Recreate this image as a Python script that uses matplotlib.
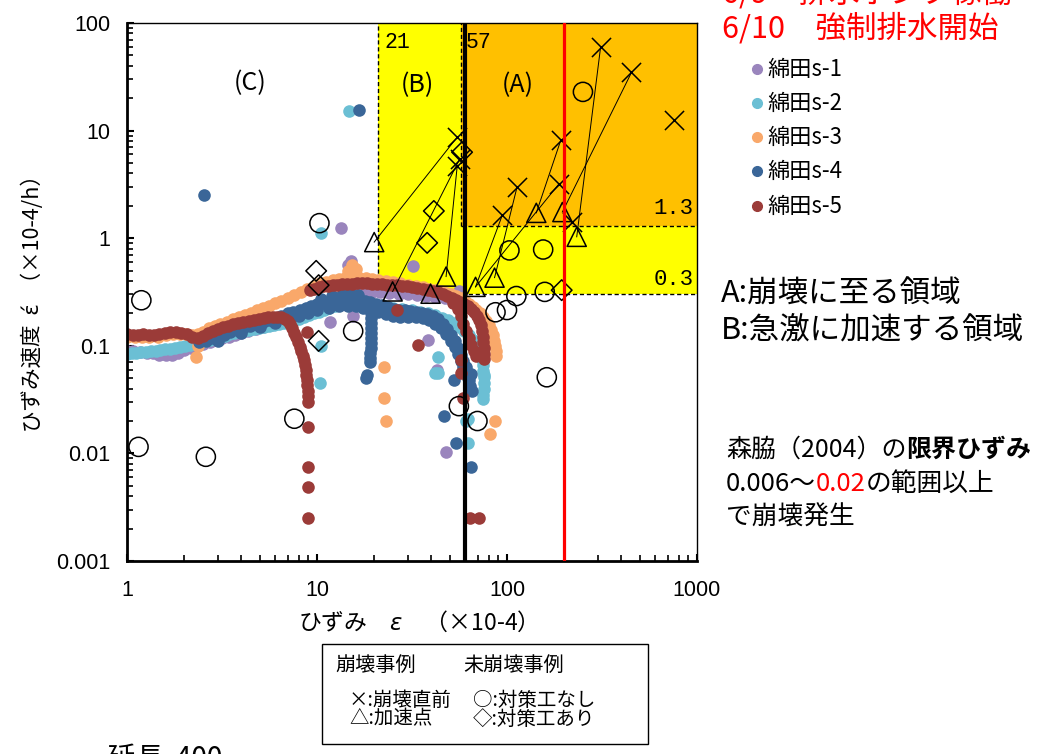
import matplotlib
matplotlib.use("Agg")
import matplotlib.pyplot as plt
import numpy as np
from matplotlib.patches import Rectangle
from matplotlib.lines import Line2D
from matplotlib.ticker import FixedLocator, LogLocator, NullFormatter

plt.rcParams['font.family'] = ['Noto Sans CJK JP', 'DejaVu Sans']

# ---- measured strain (x, ×10^-4) and strain rate (y, ×10^-4/h) per gauge ----
s1_pts = [(1.0, 0.09), (1.08, 0.089), (1.17, 0.088), (1.27, 0.086), (1.37, 0.085), (1.48, 0.083),
          (1.6, 0.082), (1.72, 0.083), (1.85, 0.086), (2.0, 0.091), (2.16, 0.096), (2.33, 0.1),
          (2.52, 0.104), (2.72, 0.108), (2.94, 0.113), (3.18, 0.118), (3.43, 0.122), (3.7, 0.126),
          (4.0, 0.131), (4.35, 0.136), (4.75, 0.142), (5.2, 0.148), (5.7, 0.155), (6.25, 0.163),
          (6.85, 0.172), (7.5, 0.183), (8.2, 0.196), (9.0, 0.21), (9.9, 0.226), (10.9, 0.243),
          (12.0, 0.26), (13.2, 0.28), (14.5, 0.3), (16.0, 0.315), (17.7, 0.32), (19.5, 0.318),
          (21.5, 0.314), (24.0, 0.31), (27.0, 0.305), (30.0, 0.3), (33.5, 0.295), (37.5, 0.29),
          (42.0, 0.284), (47.0, 0.276), (52.0, 0.266), (56.0, 0.32), (57.0, 0.25), (62.0, 0.228),
          (13.3, 1.24), (15.1, 0.62), (14.6, 0.56), (32.0, 0.55), (11.7, 0.166), (15.5, 0.19),
          (38.6, 0.113), (43.0, 0.06), (48.0, 0.0102)]

s2_pts = [(1.0, 0.084), (1.06, 0.085), (1.12, 0.086), (1.19, 0.087), (1.26, 0.088), (1.34, 0.089),
          (1.42, 0.09), (1.5, 0.091), (1.59, 0.093), (1.69, 0.094), (1.79, 0.096), (1.9, 0.098),
          (2.02, 0.1), (2.14, 0.102), (2.27, 0.104), (2.41, 0.107), (2.56, 0.11), (2.72, 0.113),
          (2.89, 0.116), (3.07, 0.12), (3.26, 0.124), (3.46, 0.128), (3.67, 0.131), (3.9, 0.134),
          (4.14, 0.137), (4.4, 0.14), (4.67, 0.143), (4.96, 0.146), (5.27, 0.149), (5.6, 0.152),
          (5.95, 0.155), (6.32, 0.158), (6.71, 0.162), (7.13, 0.167), (7.57, 0.173), (8.04, 0.179),
          (8.54, 0.186), (9.07, 0.193), (9.63, 0.2), (10.2, 0.208), (10.9, 0.217), (11.6, 0.226),
          (12.4, 0.236), (13.3, 0.244), (14.3, 0.25), (15.4, 0.252), (16.6, 0.25), (18.0, 0.246),
          (20.0, 0.24), (22.5, 0.232), (25.0, 0.226), (28.0, 0.22), (31.5, 0.214), (35.0, 0.207),
          (38.5, 0.2), (42.0, 0.192), (45.5, 0.183), (49.0, 0.173), (52.5, 0.162), (56.0, 0.15),
          (59.5, 0.138), (63.0, 0.125), (66.0, 0.113), (68.5, 0.102), (70.5, 0.092), (72.3, 0.083),
          (73.5, 0.075), (74.5, 0.066), (75.0, 0.058), (75.3, 0.051), (75.4, 0.045), (75.5, 0.04),
          (75.2, 0.035), (75.0, 0.032),
          (14.8, 15.1), (10.5, 1.11), (10.5, 0.1), (10.4, 0.045), (43.5, 0.078), (43.5, 0.056),
          (42.0, 0.056), (60.5, 0.02), (62.5, 0.021), (62.0, 0.0124), (76.0, 0.053)]

s3_pts = [(1.0, 0.12), (1.1, 0.121), (1.2, 0.122), (1.3, 0.12), (1.45, 0.122), (1.6, 0.125),
          (1.75, 0.128), (1.9, 0.13), (2.05, 0.128), (2.2, 0.125), (2.35, 0.128), (2.5, 0.135),
          (2.7, 0.145), (2.9, 0.152), (3.1, 0.16), (3.35, 0.168), (3.6, 0.176), (3.9, 0.185),
          (4.2, 0.194), (4.5, 0.203), (4.85, 0.213), (5.2, 0.224), (5.6, 0.236), (6.0, 0.248),
          (6.5, 0.262), (7.0, 0.277), (7.6, 0.295), (8.2, 0.315), (8.9, 0.34), (9.6, 0.36),
          (10.4, 0.38), (11.2, 0.395), (12.1, 0.41), (13.0, 0.42), (14.0, 0.43), (15.2, 0.44),
          (16.5, 0.44), (18.0, 0.43), (19.5, 0.42), (21.0, 0.41), (23.0, 0.4), (25.0, 0.39),
          (27.5, 0.38), (30.0, 0.37), (33.0, 0.36), (36.0, 0.35), (39.0, 0.34), (42.0, 0.33),
          (45.0, 0.32), (48.0, 0.31), (51.0, 0.3), (54.0, 0.29), (57.0, 0.28), (60.0, 0.26),
          (63.0, 0.245), (66.0, 0.23), (69.0, 0.215), (72.0, 0.2), (75.0, 0.185), (78.0, 0.17),
          (80.0, 0.155), (82.0, 0.14), (84.0, 0.125), (85.0, 0.112), (86.0, 0.1), (87.0, 0.09),
          (88.0, 0.081),
          (2.3, 0.078), (2.35, 0.099), (15.2, 0.56), (16.0, 0.52), (14.5, 0.5), (22.6, 0.063),
          (22.6, 0.033), (23.0, 0.02), (86.0, 0.02), (81.0, 0.0151)]

s4_pts = [(2.4, 0.108), (2.6, 0.112), (2.8, 0.117), (3.0, 0.121), (3.25, 0.127), (3.5, 0.133),
          (3.8, 0.139), (4.1, 0.145), (4.45, 0.152), (4.8, 0.159), (5.2, 0.167), (5.6, 0.175),
          (6.05, 0.183), (6.5, 0.191), (7.0, 0.2), (7.5, 0.208), (8.1, 0.217), (8.7, 0.226),
          (9.35, 0.235), (10.0, 0.243), (10.8, 0.251), (11.6, 0.258), (12.5, 0.264), (13.4, 0.268),
          (14.4, 0.27), (15.5, 0.269), (16.6, 0.266), (17.8, 0.26), (19.1, 0.253), (20.5, 0.245),
          (22.0, 0.237), (23.6, 0.229), (25.3, 0.222), (27.1, 0.217), (29.0, 0.213), (31.0, 0.21),
          (33.2, 0.207), (35.5, 0.203), (38.0, 0.197), (40.6, 0.188), (43.2, 0.176), (45.8, 0.161),
          (48.3, 0.144), (50.7, 0.127), (53.0, 0.111), (55.2, 0.096), (57.2, 0.083), (59.0, 0.072),
          (60.6, 0.063), (62.0, 0.055), (63.2, 0.048), (64.2, 0.042),
          (10.5, 0.275), (12.0, 0.29), (13.5, 0.298), (15.0, 0.3), (16.5, 0.297),
          (3.0, 0.112), (4.0, 0.132), (5.0, 0.148), (6.0, 0.162), (7.0, 0.176), (8.0, 0.19),
          (9.0, 0.203), (10.0, 0.214), (11.5, 0.226), (13.0, 0.232), (14.5, 0.234), (16.0, 0.232),
          (17.5, 0.225), (19.0, 0.218), (21.0, 0.205), (23.0, 0.196), (25.0, 0.19), (27.5, 0.187),
          (30.0, 0.186), (33.0, 0.185), (36.0, 0.18), (39.0, 0.172), (42.0, 0.16), (45.0, 0.145),
          (48.0, 0.128), (50.5, 0.112), (53.0, 0.097), (55.0, 0.084), (57.0, 0.073), (59.0, 0.064),
          (61.0, 0.056), (62.5, 0.05),
          (19.2, 0.2), (19.2, 0.18), (19.3, 0.162), (19.3, 0.146), (19.3, 0.131), (19.3, 0.118),
          (19.2, 0.106), (19.2, 0.095), (19.1, 0.085), (19.1, 0.077), (19.0, 0.07), (18.3, 0.053),
          (18.2, 0.05),
          (16.7, 15.5), (2.55, 2.5), (46.5, 0.0225), (54.0, 0.0125), (65.0, 0.0075), (65.5, 0.038),
          (52.5, 0.048), (64.5, 0.055)]

s5_pts = [(1.0, 0.128), (1.07, 0.126), (1.14, 0.127), (1.22, 0.129), (1.3, 0.126), (1.39, 0.127),
          (1.48, 0.13), (1.58, 0.131), (1.69, 0.133), (1.8, 0.134), (1.93, 0.132), (2.06, 0.128),
          (2.2, 0.121), (2.35, 0.117), (2.5, 0.124), (2.66, 0.131), (2.83, 0.137), (3.0, 0.143),
          (3.2, 0.148), (3.4, 0.153), (3.62, 0.158), (3.85, 0.162), (4.1, 0.166), (4.37, 0.17),
          (4.65, 0.174), (4.95, 0.178), (5.25, 0.182), (5.55, 0.185), (5.85, 0.187), (6.15, 0.186),
          (6.45, 0.184), (6.75, 0.179), (7.0, 0.17), (7.2, 0.158), (7.4, 0.145), (7.6, 0.132),
          (7.8, 0.12), (7.95, 0.108), (8.1, 0.098), (8.25, 0.089), (8.4, 0.081), (8.5, 0.074),
          (8.6, 0.067), (8.7, 0.06), (8.8, 0.054), (8.85, 0.048), (8.9, 0.043), (8.95, 0.038),
          (9.0, 0.034), (9.0, 0.03), (9.0, 0.0176), (9.0, 0.0075), (9.0, 0.0049), (9.0, 0.0025),
          (8.9, 0.134), (9.2, 0.33), (9.7, 0.34), (10.2, 0.35), (10.8, 0.357), (11.4, 0.362),
          (12.1, 0.367), (12.8, 0.371), (13.6, 0.374), (14.4, 0.377), (15.3, 0.379), (16.2, 0.38),
          (17.2, 0.381), (18.3, 0.38), (19.4, 0.379), (20.6, 0.377), (21.9, 0.374), (23.3, 0.371),
          (24.8, 0.368), (26.4, 0.364), (28.1, 0.36), (29.9, 0.356), (31.8, 0.351), (33.8, 0.346),
          (36.0, 0.34), (38.3, 0.333), (40.7, 0.325), (43.2, 0.315), (45.8, 0.303), (48.5, 0.29),
          (51.2, 0.277), (54.0, 0.265), (56.8, 0.255), (59.6, 0.245), (62.4, 0.235), (65.0, 0.222),
          (67.4, 0.207), (69.5, 0.19), (71.2, 0.172), (72.6, 0.155), (73.7, 0.138), (74.5, 0.122),
          (75.0, 0.108), (75.3, 0.095), (75.5, 0.084), (75.6, 0.075),
          (52.0, 0.25), (55.0, 0.22), (57.0, 0.19), (59.0, 0.16), (61.0, 0.138), (63.0, 0.118),
          (65.0, 0.102), (67.0, 0.09), (69.0, 0.08),
          (26.5, 0.214), (34.0, 0.101), (57.5, 0.074), (57.5, 0.056), (59.0, 0.033),
          (63.6, 0.0025), (71.5, 0.0025)]

series_names = ['綿田s-1', '綿田s-2', '綿田s-3', '綿田s-4', '綿田s-5']
series_colors = ['#9A85BD', '#6BBFD4', '#F9A86A', '#3A6698', '#9B3B38']

# collapse / non-collapse case markers
circle_pts = [(1.19, 0.265), (1.15, 0.0115), (2.6, 0.0093), (7.6, 0.021), (10.3, 1.38), (15.5, 0.137),
              (55.8, 0.0275), (69.9, 0.02), (162.0, 0.051), (87.0, 0.205), (100.0, 0.215),
              (112.0, 0.29), (158.0, 0.317), (103.0, 0.77), (155.0, 0.785), (251.0, 22.9)]
diamond_pts = [(9.9, 0.497), (10.2, 0.366), (10.2, 0.111), (38.0, 0.905), (41.2, 1.79),
               (58.0, 6.3), (194.0, 0.329)]
triangle_pts = [(20.0, 0.92), (25.0, 0.32), (39.6, 0.305), (47.8, 0.44), (68.3, 0.353),
                (86.0, 0.43), (142.6, 1.72), (195.6, 1.75), (232.8, 1.03)]
cross_pts = [(54.7, 8.7), (56.5, 5.5), (54.7, 4.7), (94.5, 1.64), (113.0, 3.0), (191.7, 8.1),
             (187.8, 3.2), (220.8, 1.42), (311.0, 60.0), (452.0, 34.7), (759.0, 12.5)]
# acceleration point -> point just before collapse
links = [(0, 0), (1, 1), (3, 2), (4, 3), (5, 4), (6, 5), (4, 6), (7, 9), (8, 8)]

# thresholds
b_left, a_left = 21, 57
rate_b, rate_a = 0.3, 1.3
morikawa_low, morikawa_high = 60, 200

fig = plt.figure(figsize=(10.56, 7.54), dpi=100)
W, H = 1056, 754


def fx(px):
    return px / W


def fy(py):
    return 1 - py / H


ax = fig.add_axes([fx(127), fy(561), (697 - 127) / W, (561 - 23) / H])
ax.set_xscale('log')
ax.set_yscale('log')
ax.set_xlim(1, 1000)
ax.set_ylim(0.001, 100)

# zones
ax.add_patch(Rectangle((b_left, rate_b), 1000 - b_left, 100 - rate_b, facecolor='#FFFF00',
                       edgecolor='none', zorder=0))
ax.add_patch(Rectangle((a_left, rate_a), 1000 - a_left, 100 - rate_a, facecolor='#FFC000',
                       edgecolor='none', zorder=0.5))
dash = dict(color='black', lw=1.0, ls=(0, (3, 2)), zorder=1)
ax.plot([b_left, b_left], [rate_b, 100], **dash)
ax.plot([a_left, a_left], [rate_a, 100], **dash)
ax.plot([b_left, 1000], [rate_b, rate_b], **dash)
ax.plot([a_left, 1000], [rate_a, rate_a], **dash)

for pts, name, col in zip([s1_pts, s2_pts, s3_pts, s4_pts, s5_pts], series_names, series_colors):
    xs, ys = np.array(pts).T
    ax.scatter(xs, ys, s=82, color=col, linewidths=0, zorder=2, label=name)

# trajectories
for ti, ci in links:
    ax.plot([triangle_pts[ti][0], cross_pts[ci][0]], [triangle_pts[ti][1], cross_pts[ci][1]],
            color='black', lw=0.7, zorder=3)

mk = dict(facecolors='none', edgecolors='black', linewidths=1.1, zorder=4)
ax.scatter(*np.array(circle_pts).T, marker='o', s=190, **mk)
ax.scatter(*np.array(diamond_pts).T, marker='D', s=110, **mk)
ax.scatter(*np.array(triangle_pts).T, marker='^', s=190, **mk)
ax.scatter(*np.array(cross_pts).T, marker='x', s=190, color='black', linewidths=1.1, zorder=4)

ax.axvline(morikawa_low, color='black', lw=3.0, zorder=5)
ax.axvline(morikawa_high, color='#FF0000', lw=2.3, zorder=5)

# zone labels
ax.text(22.6, 66, '21', fontsize=15.5, family='Liberation Mono', va='center', ha='left', zorder=1)
ax.text(60.5, 66, '57', fontsize=15.5, family='Liberation Mono', va='center', ha='left', zorder=1)
ax.text(4.45, 27.6, '(C)', fontsize=18, ha='center', va='center')
ax.text(33.8, 26.4, '(B)', fontsize=18, ha='center', va='center')
ax.text(113.7, 26.4, '(A)', fontsize=18, ha='center', va='center')
ax.text(960, 1.9, '1.3', fontsize=16, family='Liberation Mono', ha='right', va='center')
ax.text(960, 0.41, '0.3', fontsize=16, family='Liberation Mono', ha='right', va='center')

# axes styling
for side in ['left', 'bottom']:
    ax.spines[side].set_linewidth(2.0)
for side in ['top', 'right']:
    ax.spines[side].set_linewidth(1.0)
ax.tick_params(which='both', direction='in', top=False, right=False)
ax.tick_params(which='major', length=5, width=1.5, labelsize=15.5)
ax.tick_params(axis='y', which='major', pad=12)
ax.tick_params(axis='x', which='major', pad=14)
ax.tick_params(which='minor', length=4, width=1.2)
ax.xaxis.set_major_locator(FixedLocator([1, 10, 100, 1000]))
ax.yaxis.set_major_locator(FixedLocator([0.001, 0.01, 0.1, 1, 10, 100]))
ax.xaxis.set_minor_locator(LogLocator(base=10, subs=np.arange(2, 10)))
ax.yaxis.set_minor_locator(LogLocator(base=10, subs=np.arange(2, 10)))
ax.xaxis.set_minor_formatter(NullFormatter())
ax.yaxis.set_minor_formatter(NullFormatter())
ax.set_xticklabels(['1', '10', '100', '1000'], family='Liberation Sans')
ax.set_yticklabels(['0.001', '0.01', '0.1', '1', '10', '100'], family='Liberation Sans')

fig.text(fx(33), fy(298), 'ひずみ速度  έ  （×10-4/h）', rotation=90, fontsize=15.5,
         ha='center', va='center')
fig.text(fx(412), fy(622), 'ひずみ　$\\varepsilon$　（×10-4）', fontsize=16.5, ha='center',
         va='center')

# series legend
legend_y = [69, 103, 137, 171, 206]
for yy, name, col in zip(legend_y, series_names, series_colors):
    fig.add_artist(Line2D([fx(757)], [fy(yy)], marker='o', markersize=7, color=col, lw=0,
                          transform=fig.transFigure))
    fig.text(fx(767), fy(yy), name, fontsize=16, va='center', ha='left')

# event notes
fig.text(fx(722), fy(-6), '6/9　排水ポンプ稼働', fontsize=22, color='#FF0000', va='center')
fig.text(fx(722), fy(29), '6/10　強制排水開始', fontsize=22, color='#FF0000', va='center')

fig.text(fx(721), fy(294), 'A:崩壊に至る領域', fontsize=22, va='center')
fig.text(fx(721), fy(331), 'B:急激に加速する領域', fontsize=22, va='center')

renderer = fig.canvas.get_renderer()


def text_run(x_px, y_px, pieces, size):
    x = x_px
    for s, col, wt in pieces:
        t = fig.text(fx(x), fy(y_px), s, color=col, fontsize=size, fontweight=wt, va='center')
        x += t.get_window_extent(renderer).width


text_run(726, 450, [('森脇（2004）の', 'black', 'normal'), ('限界ひずみ', 'black', 'bold')], 18)
text_run(726, 484, [('0.006～', 'black', 'normal'), ('0.02', '#FF0000', 'normal'),
                    ('の範囲以上', 'black', 'normal')], 18.5)
text_run(726, 518, [('で崩壊発生', 'black', 'normal')], 18.5)

# marker key box
fig.add_artist(Rectangle((fx(322), fy(744)), (648 - 322) / W, 100 / H, transform=fig.transFigure,
                         facecolor='white', edgecolor='black', lw=1.0))
fig.text(fx(335), fy(665), '崩壊事例', fontsize=14.5, va='center')
fig.text(fx(463), fy(665), '未崩壊事例', fontsize=14.5, va='center')
fig.text(fx(349), fy(700), '×:崩壊直前', fontsize=14, va='center')
fig.text(fx(473), fy(700), '○:対策工なし', fontsize=14, va='center')
fig.text(fx(349), fy(719), '△:加速点', fontsize=14, va='center')
fig.text(fx(473), fy(719), '◇:対策工あり', fontsize=14, va='center')

fig.text(fx(108), fy(744), '延長  400', fontsize=20, va='top')

fig.savefig('out.png', dpi=100)
